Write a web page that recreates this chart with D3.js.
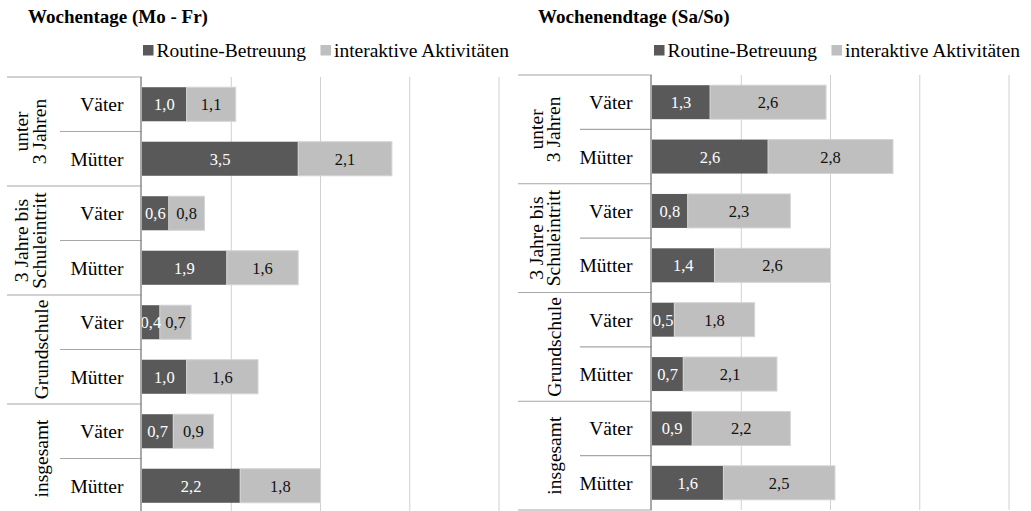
<!DOCTYPE html>
<html>
<head>
<meta charset="utf-8">
<script src="https://cdn.jsdelivr.net/npm/d3@7"></script>
<style>
  html, body { margin: 0; padding: 0; background: #fff; }
  svg { display: block; }
  svg text { font-family: "Liberation Serif", "Tinos", "Times New Roman", "DejaVu Serif", serif; }
</style>
</head>
<body>
<svg id="chart" width="1031" height="511"></svg>
<script>
// ---- data ----
const groupLabels = [["unter", "3 Jahren"], ["3 Jahre bis", "Schuleintritt"], ["Grundschule"], ["insgesamt"]];
const parents = ["Väter", "Mütter"];
const seriesNames = ["Routine-Betreuung", "interaktive Aktivitäten"];
const panelTitles = ["Wochentage (Mo - Fr)", "Wochenendtage (Sa/So)"];
const weekdayRoutine = [1.0, 3.5, 0.6, 1.9, 0.4, 1.0, 0.7, 2.2];
const weekdayInteractive = [1.1, 2.1, 0.8, 1.6, 0.7, 1.6, 0.9, 1.8];
const weekendRoutine = [1.3, 2.6, 0.8, 1.4, 0.5, 0.7, 0.9, 1.6];
const weekendInteractive = [2.6, 2.8, 2.3, 2.6, 1.8, 2.1, 2.2, 2.5];
const gridTicks = [2, 4, 6, 8];

// ---- style ----
const FONT = "'Liberation Serif', Tinos, 'Times New Roman', 'DejaVu Serif', serif";
const colors = ["#595959", "#bfbfbf"];
const labelColors = ["#ffffff", "#111111"];

const svg = d3.select("#chart").attr("font-family", FONT);
const defs = svg.append("defs");

const panels = [
  { title: panelTitles[0], routine: weekdayRoutine, interactive: weekdayInteractive,
    clipX: 0, clipW: 509, titleX: 28, legendX: 143, tableLeft: 7, innerDivX: 60,
    innerLabelX: 123.5, axisX: 142, top: 77, bottom: 513, gl: [28, 46, 48] },
  { title: panelTitles[1], routine: weekendRoutine, interactive: weekendInteractive,
    clipX: 511, clipW: 520, titleX: 538, legendX: 654, tableLeft: 518, innerDivX: 580,
    innerLabelX: 632.5, axisX: 652, top: 75, bottom: 510, gl: [543, 560, 561] }
];

// rows: categories
const rows = [];
groupLabels.forEach((g, gi) => parents.forEach(p => rows.push({ key: gi + "-" + p, group: gi, parent: p })));

panels.forEach((P, pi) => {
  defs.append("clipPath").attr("id", "clip" + pi)
    .append("rect").attr("x", P.clipX).attr("y", 0).attr("width", P.clipW).attr("height", 511);
  const g = svg.append("g").attr("clip-path", `url(#clip${pi})`).attr("font-family", FONT);

  const x = d3.scaleLinear().domain([0, 8]).range([P.axisX, P.axisX + 357]);
  const y = d3.scaleBand().domain(rows.map(r => r.key)).range([P.top, P.bottom])
    .paddingInner(0.375).paddingOuter(0.1875);
  const step = y.step();

  // title
  g.append("text").attr("x", P.titleX).attr("y", 23).attr("font-family", FONT)
    .attr("font-size", 19).attr("font-weight", "bold").attr("fill", "#000").text(P.title);

  // legend
  let lx = P.legendX;
  seriesNames.forEach((name, si) => {
    g.append("rect").attr("x", lx).attr("y", 45).attr("width", 10.5).attr("height", 10.5).attr("fill", colors[si]);
    const t = g.append("text").attr("x", lx + 13.5).attr("y", 57).attr("font-family", FONT)
      .attr("font-size", 19.5).attr("font-weight", "normal").attr("fill", "#000").text(name);
    lx = lx + 13.5 + t.node().getComputedTextLength() + 14.5;
  });

  // gridlines
  g.selectAll(".grid").data(gridTicks).enter().append("line")
    .attr("x1", d => x(d)).attr("x2", d => x(d))
    .attr("y1", P.top).attr("y2", P.bottom)
    .attr("stroke", "#d0d0d0").attr("stroke-width", 1);

  // bars
  const stacked = rows.map((r, i) => {
    const a = P.routine[i], b = P.interactive[i];
    return [{ r, s: 0, x0: 0, x1: a, v: a }, { r, s: 1, x0: a, x1: a + b, v: b }];
  }).flat();

  g.selectAll(".bar").data(stacked).enter().append("rect")
    .attr("x", d => x(d.x0)).attr("width", d => x(d.x1) - x(d.x0))
    .attr("y", d => y(d.r.key)).attr("height", y.bandwidth())
    .attr("fill", d => colors[d.s])
    .attr("stroke", d => d.s === 1 ? "#d4d4d4" : "none").attr("stroke-width", 1);

  g.selectAll(".val").data(stacked).enter().append("text")
    .attr("x", d => (x(d.x0) + x(d.x1)) / 2)
    .attr("y", d => y(d.r.key) + y.bandwidth() / 2 + 6)
    .attr("text-anchor", "middle").attr("font-size", 16.5).attr("font-family", FONT)
    .attr("fill", d => labelColors[d.s])
    .text(d => d3.format(".1f")(d.v).replace(".", ","));

  // table lines (category axis)
  const lineColor = "#a6a6a6";
  for (let gi = 0; gi <= groupLabels.length; gi++) {
    const yy = P.top + gi * 2 * step;
    g.append("line").attr("x1", P.tableLeft).attr("x2", P.axisX).attr("y1", yy).attr("y2", yy)
      .attr("stroke", lineColor).attr("stroke-width", 1.2);
  }
  for (let gi = 0; gi < groupLabels.length; gi++) {
    const yy = P.top + (gi * 2 + 1) * step;
    g.append("line").attr("x1", P.innerDivX).attr("x2", P.axisX).attr("y1", yy).attr("y2", yy)
      .attr("stroke", lineColor).attr("stroke-width", 1.2);
  }
  // axis
  g.append("line").attr("x1", P.axisX - 1).attr("x2", P.axisX - 1).attr("y1", P.top).attr("y2", P.bottom)
    .attr("stroke", "#8c8c8c").attr("stroke-width", 1.5);

  // inner labels
  g.selectAll(".plab").data(rows).enter().append("text")
    .attr("x", P.innerLabelX)
    .attr("y", d => y(d.key) + y.bandwidth() / 2 + 7)
    .attr("text-anchor", "end").attr("font-size", 19.5).attr("font-family", FONT).attr("fill", "#000")
    .text(d => d.parent);

  // group labels
  groupLabels.forEach((lines, gi) => {
    const cy = P.top + (gi * 2 + 1) * step;
    lines.forEach((ln, li) => {
      const bx = lines.length === 1 ? P.gl[2] : P.gl[li];
      g.append("text")
        .attr("transform", `translate(${bx},${cy}) rotate(-90)`)
        .attr("text-anchor", "middle").attr("font-size", 19.5).attr("font-family", FONT).attr("fill", "#000")
        .text(ln);
    });
  });
});
</script>
</body>
</html>
